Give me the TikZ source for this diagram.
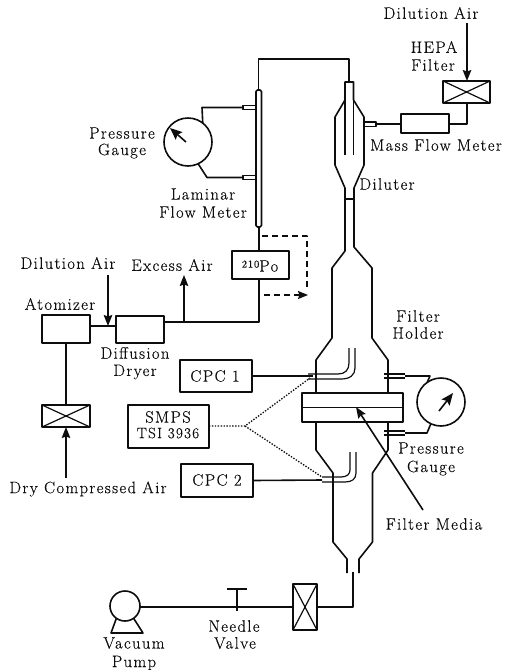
\documentclass[tikz,border=0pt]{standalone}
\usepackage{fontspec}
\setmainfont[LetterSpace=8.5,FakeBold=0.35]{Latin Modern Roman}
\usetikzlibrary{arrows.meta}
\definecolor{ink}{gray}{0.05}
\tikzset{
  x=1pt,y=-1pt,
  every path/.style={line width=1.6pt,color=ink,line join=round},
  lbl/.style={font=\fontsize{16.5}{16.5}\selectfont,inner sep=0pt,text=ink,anchor=center},
  sm/.style={font=\fontsize{15}{15}\selectfont,inner sep=0pt,text=ink,anchor=center},
  boxn/.style={draw,rectangle,inner sep=0pt,outer sep=0pt},
  xbox/.style={boxn,path picture={\draw[line width=1.2pt] (path picture bounding box.north west)--(path picture bounding box.south east) (path picture bounding box.north east)--(path picture bounding box.south west);}},
  gaugec/.style={draw,circle,inner sep=0pt,outer sep=0pt,minimum size=48pt},
  flow/.style={-{Stealth[length=11pt,width=8.5pt,inset=1.5pt]}},
  dots/.style={line width=1.3pt,dash pattern=on 1.4pt off 1.5pt},
  dash2/.style={line width=1.5pt,dash pattern=on 6pt off 4pt},
  thin2/.style={line width=1.2pt},
}
\begin{document}
\begin{tikzpicture}
\useasboundingbox (0,0) rectangle (504,670);

% ---- boxes
\node[boxn,minimum width=48pt,minimum height=28pt] (atom) at (66,329) {};
\node[boxn,minimum width=48pt,minimum height=27pt] (dryer) at (140,329.5) {};
\node[xbox,minimum width=48pt,minimum height=22pt] (airfilter) at (66,416) {};
\node[boxn,minimum width=57pt,minimum height=28pt] (po) at (260.5,265) {};
\node[boxn,minimum width=48pt,minimum height=19pt] (mfm) at (425,123.5) {};
\node[xbox,minimum width=47pt,minimum height=22pt] (hepa) at (466.5,92) {};
\node[boxn,minimum width=72pt,minimum height=32pt] (cpc1) at (216,376) {};
\node[boxn,minimum width=72pt,minimum height=33pt] (cpc2) at (217,480.5) {};
\node[boxn,minimum width=81pt,minimum height=43pt] (smps) at (168.5,426.5) {};
\node[xbox,minimum width=24pt,minimum height=46pt] (trap) at (305,607) {};
\node[gaugec] (g1) at (188,142) {};
\node[gaugec] (g2) at (441,402) {};
\node[draw,circle,inner sep=0pt,outer sep=0pt,minimum size=30pt] (pump) at (125,606) {};
\node[boxn,minimum width=5.5pt,minimum height=137pt,rounded corners=1.5pt] (lfm) at (258.75,158.5) {};

% ---- named points
\coordinate (dilA) at (108,275);
\coordinate (dilJ) at (108,326);
\coordinate (excJ) at (184,322);
\coordinate (excT) at (184,275);
\coordinate (dryA) at (66,478);
\coordinate (dil2) at (467,23);
\coordinate (pojn) at (259,322);
\coordinate (dilTop) at (349,82);
\coordinate (lfmUp) at (258.5,59);
\coordinate (dilUp) at (349,59);
\coordinate (tabM) at (376,124);
\coordinate (hepaJ) at (467,124);
\coordinate (p1) at (313,376);
\coordinate (p2) at (322,480);
\coordinate (fork) at (245,426);
\coordinate (d1) at (310,378);
\coordinate (d2) at (322,477);
\coordinate (vj) at (237,607);
\coordinate (vt) at (237,589);
\coordinate (outl) at (353,572);
\coordinate (outj) at (353,607);
\coordinate (mediaT) at (356,407);
\coordinate (mediaB) at (423,510);

% ---- aerosol line
\draw[flow] (dryA) -- (airfilter.south);
\draw (airfilter.north) -- (atom.south);
\draw (atom.east |- dilJ) -- (dryer.west |- dilJ);
\draw[flow] (dilA) -- (dilJ);
\draw (dryer.east |- excJ) -- (pojn) -- (po.south -| pojn);
\draw[flow] (excJ) -- (excT);
\draw (po.north -| pojn) -- (lfm.south -| pojn);
\draw (lfm.north -| lfmUp) -- (lfmUp) -- (dilUp) -- (dilTop);
\draw[dash2] (262,236) -- (307,236) -- (307,288);
\draw[dash2,-{Stealth[length=10pt,width=8pt,inset=1.5pt]}] (264,295) -- (308,295);

% ---- laminar flow meter taps and gauge
\draw[thin2] (243,105.5) rectangle (256,109.5);
\draw[thin2] (243,175.5) rectangle (256,179.5);
\draw (243,107.5) -- (202,107.5) -- (g1.52);
\draw (243,177.5) -- (207,177.5) -- (g1.-65);
\draw[-{Stealth[length=12pt,width=10pt,inset=2pt]}] (186,142) -- (170,128);

% ---- diluter
\draw (345,199) -- (345,188) -- (335,165) -- (335,117) -- (345,100) -- (345,82) -- (353.5,82) -- (353.5,100) -- (364,117) -- (364,165) -- (354,188) -- (354,199);
\draw[thin2] (345,100) -- (345,155) (353.5,100) -- (353.5,155);
\draw[thin2] (364,122) -- (376,122) -- (376,126.5) -- (364,126.5);
\draw (tabM) -- (mfm.west |- tabM);
\draw (mfm.east |- hepaJ) -- (hepaJ) -- (hepa.south -| hepaJ);
\draw[flow] (dil2) -- (hepa.north -| dil2);

% ---- main column
\draw (345,199) -- (354,199);
\draw (345,199) -- (345,251) -- (332,268) -- (332,338) -- (316,360) -- (316,393);
\draw (354,199) -- (354,247) -- (372,268) -- (372,338) -- (388,360) -- (388,393);
\node[boxn,minimum width=101pt,minimum height=29pt] (flange) at (352.5,407.5) {};
\draw (flange.west) -- (flange.east);
\draw (316,422) -- (316,450) -- (333,473) -- (333,542) -- (347,559) -- (347,573);
\draw (388,422) -- (388,450) -- (372.5,473) -- (372.5,542) -- (359,559) -- (359,573);

% ---- probes
\draw[thin2] (308,374) -- (338,374) .. controls (345,374) and (349,370) .. (349,363) -- (349,348);
\draw[thin2] (308,379) -- (341,379) .. controls (350,379) and (355,375) .. (355,368) -- (355,348);
\draw[thin2] (322,477) -- (341,477) .. controls (347,477) and (350,474) .. (350,470) -- (350,452);
\draw[thin2] (322,482) -- (345,482) .. controls (352,482) and (356,479) .. (356,473) -- (356,452);
\draw (cpc1.east) -- (p1);
\draw (cpc2.east) -- (p2);
\draw[dots] (smps.east |- fork) -- (fork) -- (d1);
\draw[dots] (fork) -- (d2);

% ---- filter holder taps and gauge
\draw[thin2] (384,374) -- (405,374) (384,378) -- (405,378);
\draw[thin2] (384,431) -- (405,431) (384,435) -- (405,435);
\draw (405,376) -- (430,376) -- (g2.125);
\draw (405,433) -- (427,433) -- (g2.-115);
\draw[-{Stealth[length=12pt,width=10pt,inset=2pt]}] (439,411) -- (453,393);
\draw[flow] (mediaB) -- (mediaT);

% ---- pump line
\draw (pump.east |- vj) -- (vj) -- (trap.west |- vj);
\draw (vj) -- (vt);
\draw (227,589) -- (247,589);
\draw (237,607) -- (237,611);
\draw (trap.east |- outj) -- (outj) -- (outl);
\draw (pump.-125) -- (111,633) -- (143,633) -- (pump.-55);

% ---- labels
\node[lbl] (t1) at (431,13) {Dilution Air};
\node[lbl] (t2) at (434,47) {HEPA};
\node[lbl] (t3) at (433,65) {Filter};
\node[lbl] (t4) at (436,145) {Mass Flow Meter};
\node[lbl] (t5) at (387,184) {Diluter};
\node[lbl] (t6) at (122,133) {Pressure};
\node[lbl] (t7) at (122,151) {Gauge};
\node[lbl] (t8) at (203,194) {Laminar};
\node[lbl] (t9) at (203,212) {Flow Meter};
\node[lbl] (t10) at (260,266) {\raisebox{4pt}{\fontsize{10.5}{11}\selectfont 210}Po};
\node[lbl] (t11) at (68,263) {Dilution Air};
\node[lbl] (t12) at (172,265) {Excess Air};
\node[lbl] (t13) at (60,304) {Atomizer};
\node[lbl] (t14) at (135,353) {Diffusion};
\node[lbl] (t15) at (135,372) {Dryer};
\node[lbl] (t16) at (215,376) {CPC 1};
\node[lbl] (t17) at (217,480) {CPC 2};
\node[lbl] (t18) at (168,417) {SMPS};
\node[sm] (t19) at (168,433) {TSI 3936};
\node[lbl] (t20) at (88,489) {Dry Compressed Air};
\node[lbl] (t21) at (418,316) {Filter};
\node[lbl] (t22) at (418,333) {Holder};
\node[lbl] (t23) at (431,448) {Pressure};
\node[lbl] (t24) at (431,468) {Gauge};
\node[lbl] (t25) at (434,524) {Filter Media};
\node[lbl] (t26) at (234,626) {Needle};
\node[lbl] (t27) at (235,643) {Valve};
\node[lbl] (t28) at (134,643) {Vacuum};
\node[lbl] (t29) at (134,663) {Pump};
\end{tikzpicture}
\end{document}
